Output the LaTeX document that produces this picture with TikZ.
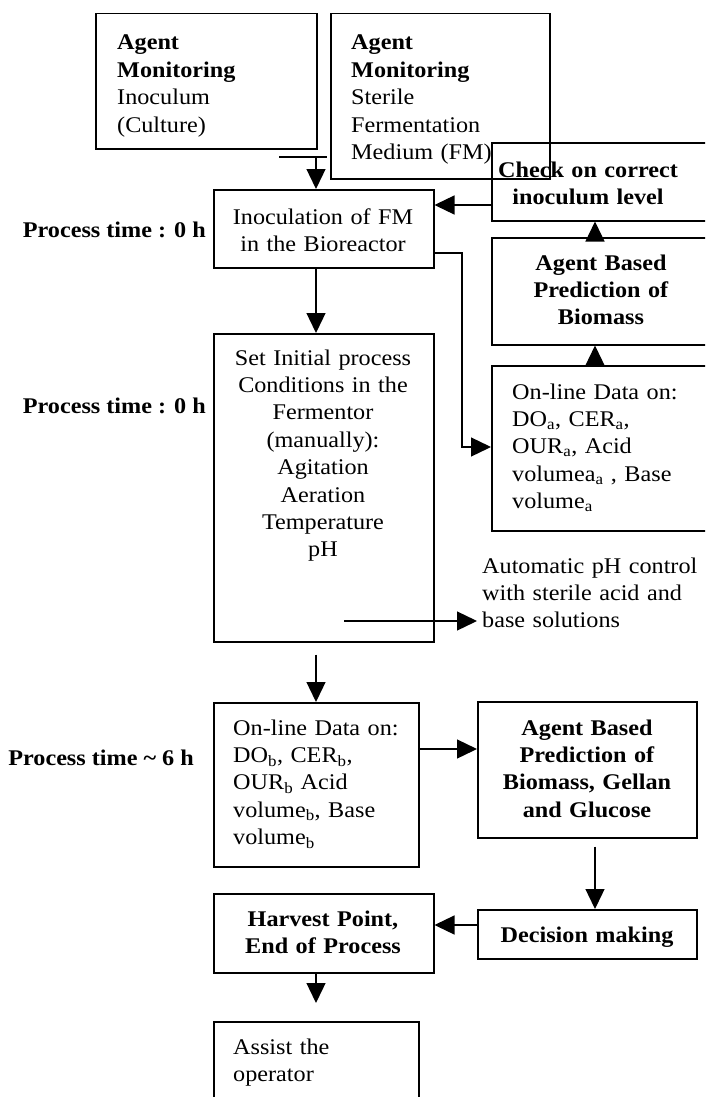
\documentclass[tikz,border=0pt]{standalone}
\usepackage{fontspec}
\setmainfont{Liberation Serif}[FakeStretch=1.08]
\usetikzlibrary{arrows.meta}
\tikzset{
  box/.style={draw, line width=1.5pt, rectangle, inner sep=0pt, anchor=north west},
  arr/.style={line width=1.3pt, -{Triangle[length=20pt,width=19pt]}},
  plainline/.style={line width=1.3pt},
  txt/.style={inner sep=0pt, font=\fontsize{22.4}{27.4}\selectfont},
  ltxt/.style={txt, text width=230pt, align=left, anchor=base west},
  ctxt/.style={txt, text width=230pt, align=center, anchor=base},
  rtxt/.style={txt, anchor=base east},
}
\begin{document}
\begin{tikzpicture}[x=1pt,y=-1pt]
\useasboundingbox (0,0) rectangle (705,1097);
\clip (0,0) rectangle (705,1097);
\fill[white] (0,0) rectangle (705,1097);

% boxes
\node[box, minimum width=221pt, minimum height=135pt] (boxA) at (95,13) {};
\node[box, minimum width=219pt, minimum height=165pt] (boxB) at (330,13) {};
\node[box, minimum width=221pt, minimum height=78pt] (check) at (491,142) {};
\node[box, minimum width=220pt, minimum height=78pt] (inoc) at (213,189) {};
\node[box, minimum width=221pt, minimum height=107pt] (predA) at (491,237) {};
\node[box, minimum width=221pt, minimum height=165pt] (onlineA) at (491,365) {};
\node[box, minimum width=220pt, minimum height=308pt] (set) at (213,333) {};
\node[box, minimum width=205pt, minimum height=164pt] (onlineB) at (213,702) {};
\node[box, minimum width=219pt, minimum height=136pt] (predB) at (477,701) {};
\node[box, minimum width=219pt, minimum height=49pt] (decision) at (477,909) {};
\node[box, minimum width=220pt, minimum height=79pt] (harvest) at (213,893) {};
\node[box, minimum width=205pt, minimum height=95pt] (assist) at (213,1021) {};

% texts
\node[ltxt] (tA) at (117,50) {\textbf{Agent}\\\textbf{Monitoring}\\Inoculum\\(Culture)};
\node[ltxt] (tB) at (351,50) {\textbf{Agent}\\\textbf{Monitoring}\\Sterile\\Fermentation\\Medium (FM)};
\node[ctxt] (tcheck) at (588,177) {\textbf{Check on correct}\\\textbf{inoculum level}};
\node[ctxt] (tinoc) at (323,224) {Inoculation of FM\\in the Bioreactor};
\node[ctxt] (tpredA) at (601,270) {\textbf{Agent Based}\\\textbf{Prediction of}\\\textbf{Biomass}};
\node[ltxt] (tonlineA) at (512,399) {On-line Data on:\\DO\textsubscript{a}, CER\textsubscript{a},\\OUR\textsubscript{a}, Acid\\volumea\textsubscript{a} , Base\\volume\textsubscript{a}};
\node[ctxt] (tset) at (323,365) {Set Initial process\\Conditions in the\\Fermentor\\(manually):\\Agitation\\Aeration\\Temperature\\pH};
\node[ltxt, inner xsep=5pt] (auto) at (477,573) {Automatic pH control\\with sterile acid and\\base solutions};
\node[ltxt] (tonlineB) at (233,735) {On-line Data on:\\DO\textsubscript{b}, CER\textsubscript{b},\\OUR\textsubscript{b} Acid\\volume\textsubscript{b}, Base\\volume\textsubscript{b}};
\node[ctxt] (tpredB) at (587,735) {\textbf{Agent Based}\\\textbf{Prediction of}\\\textbf{Biomass, Gellan}\\\textbf{and Glucose}};
\node[ctxt] (tdecision) at (587,942) {\textbf{Decision making}};
\node[ctxt] (tharvest) at (323,926) {\textbf{Harvest Point,}\\\textbf{End of Process}};
\node[ltxt] (tassist) at (233,1054) {Assist the\\operator};
\node[rtxt] (pt1) at (206,237) {\textbf{Process time : 0 h}};
\node[rtxt] (pt2) at (206,413) {\textbf{Process time : 0 h}};
\node[rtxt] (pt3) at (194,765) {\textbf{Process time \textasciitilde{} 6 h}};

% connectors
\coordinate (la) at (279,157);
\coordinate (lb) at (327,157);
\coordinate (aj) at (316,157);
\draw[plainline] (la) -- (lb);
\draw[arr] (aj) -- (aj |- inoc.north);
\draw[arr] (check.west |- 0,205) -- (inoc.east |- 0,205);
\draw[arr] (predA.north -| 595,0) -- (check.south -| 595,0);
\draw[arr] (onlineA.north -| 595,0) -- (predA.south -| 595,0);
\draw[arr] (inoc.east |- 0,253) -- (462,253) -- (462,447) -- (onlineA.west |- 0,447);
\draw[arr] (inoc.south -| 316,0) -- (set.north -| 316,0);
\coordinate (ph) at (344,621);
\draw[arr] (ph) -- (auto.west |- ph);
\draw[arr] ([yshift=-12pt]set.south -| 316,0) -- (onlineB.north -| 316,0);
\draw[arr] (onlineB.east |- 0,749) -- (predB.west |- 0,749);
\draw[arr] ([yshift=-8pt]predB.south -| 595,0) -- (decision.north -| 595,0);
\draw[arr] (decision.west |- 0,925) -- (harvest.east |- 0,925);
\draw[arr] (harvest.south -| 316,0) -- ([yshift=18pt]assist.north -| 316,0);
\end{tikzpicture}
\end{document}
